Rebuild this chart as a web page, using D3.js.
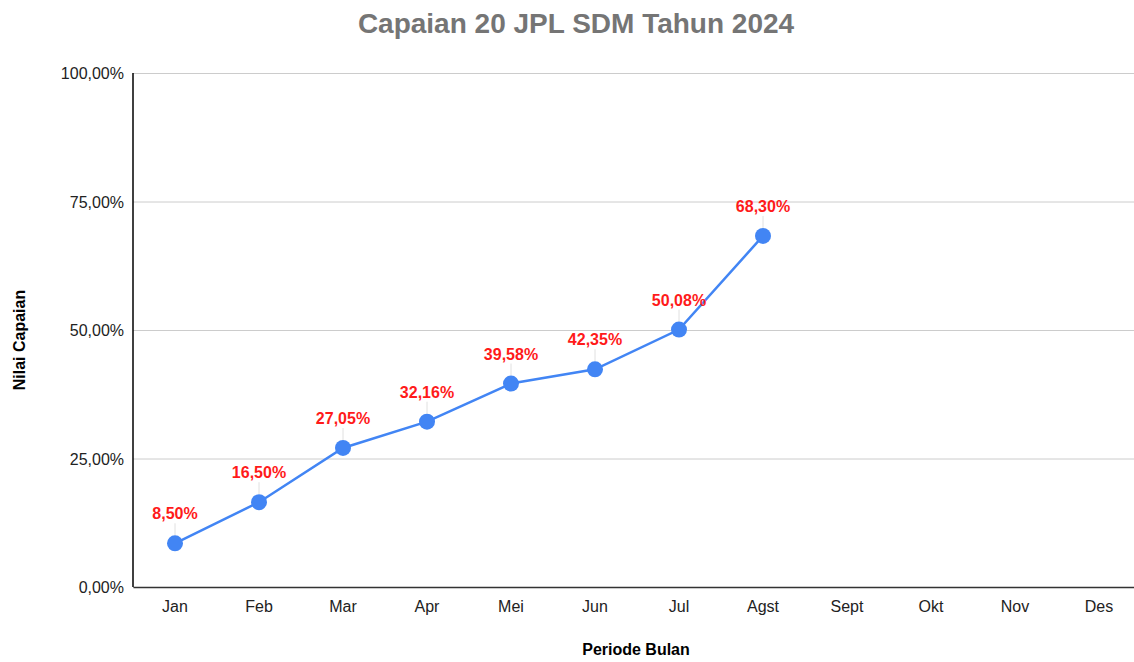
<!DOCTYPE html>
<html><head><meta charset="utf-8">
<script src="https://cdn.jsdelivr.net/npm/d3@7"></script>
<style>body{margin:0;background:#fff}svg{display:block;font-family:"Liberation Sans",Arial,sans-serif}</style>
</head><body><svg id="c" width="1134" height="662"></svg>
<script>
const months = ["Jan","Feb","Mar","Apr","Mei","Jun","Jul","Agst","Sept","Okt","Nov","Des"];
const values = [8.50,16.50,27.05,32.16,39.58,42.35,50.08,68.30];
const yTicks = [0,25,50,75,100];
const title = "Capaian 20 JPL SDM Tahun 2024";
const xTitle = "Periode Bulan";
const yTitle = "Nilai Capaian";

const svg = d3.select("#c");
const L=133, R=1141, T=73, B=587;
const x = d3.scaleBand().domain(months).range([L,R]);
const y = d3.scaleLinear().domain([0,100]).range([B,T]);
const fmt = v => v.toFixed(2).replace(".",",")+"%";

svg.append("text").attr("x",576).attr("y",33).attr("text-anchor","middle")
  .attr("font-size",28).attr("font-weight","bold").attr("fill","#757575").text(title);

const gy = svg.append("g").attr("transform",`translate(${L},0)`)
  .call(d3.axisLeft(y).tickValues(yTicks).tickSize(-(R-L)).tickFormat(fmt));
gy.select(".domain").remove();
gy.selectAll(".tick line").attr("stroke","#cccccc");
gy.selectAll(".tick text").attr("font-size",16).attr("fill","#222").attr("x",-9).attr("dy","0.35em");

const gx = svg.append("g").attr("transform",`translate(0,${B})`)
  .call(d3.axisBottom(x).tickSize(0));
gx.select(".domain").attr("stroke","#333").attr("stroke-width",1.5);
gx.selectAll(".tick text").attr("font-size",16).attr("fill","#222").attr("dy","0").attr("y",25);

svg.append("line").attr("x1",L).attr("x2",L).attr("y1",T).attr("y2",B).attr("stroke","#000").attr("stroke-width",1.5);

svg.append("text").attr("x",636).attr("y",655).attr("text-anchor","middle")
  .attr("font-size",16).attr("font-weight","bold").attr("fill","#000").text(xTitle);
svg.append("text").attr("transform",`translate(25,340) rotate(-90)`).attr("text-anchor","middle")
  .attr("font-size",16).attr("font-weight","bold").attr("fill","#000").text(yTitle);

const pts = values.map((v,i)=>({m:months[i],v}));
const cx = d => x(d.m)+x.bandwidth()/2;

svg.selectAll(".lead").data(pts).enter().append("line")
  .attr("x1",cx).attr("x2",cx).attr("y1",d=>y(d.v)-8).attr("y2",d=>y(d.v)-20)
  .attr("stroke","#e0e0e0").attr("stroke-width",1);

svg.append("path").datum(pts)
  .attr("d",d3.line().x(cx).y(d=>y(d.v)))
  .attr("fill","none").attr("stroke","#4285F4").attr("stroke-width",2.5);

svg.selectAll(".pt").data(pts).enter().append("circle")
  .attr("cx",cx).attr("cy",d=>y(d.v)).attr("r",8).attr("fill","#4285F4");

svg.selectAll(".lbl").data(pts).enter().append("text")
  .attr("x",cx).attr("y",d=>y(d.v)-24).attr("text-anchor","middle")
  .attr("font-size",16).attr("font-weight","bold").attr("fill","#ff1a1a").text(d=>fmt(d.v));
</script></body></html>
